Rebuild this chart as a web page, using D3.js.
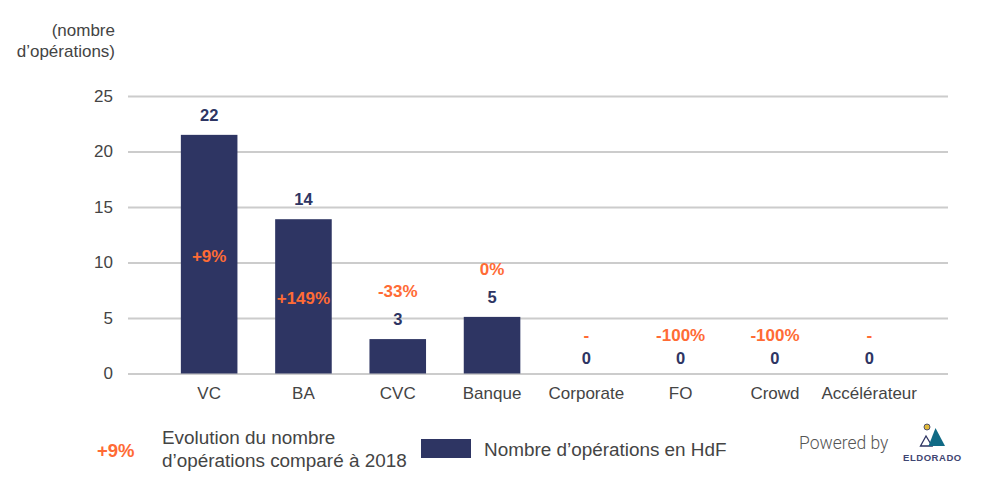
<!DOCTYPE html>
<html>
<head>
<meta charset="utf-8">
<script src="https://cdnjs.cloudflare.com/ajax/libs/d3/7.8.5/d3.min.js"></script>
<style>
  html, body { margin: 0; background: #fff; }
  text { font-family: "Liberation Sans", Arial, sans-serif; }
</style>
</head>
<body>
<script>
const categories = ['VC', 'BA', 'CVC', 'Banque', 'Corporate', 'FO', 'Crowd', 'Accélérateur'];
const barValues = [21.5, 13.9, 3.1, 5.1, 0, 0, 0, 0];
const valueLabels = ['22', '14', '3', '5', '0', '0', '0', '0'];
const evolutionLabels = ['+9%', '+149%', '-33%', '0%', '-', '-100%', '-100%', '-'];
const yTicks = [0, 5, 10, 15, 20, 25];

const navy = '#2e3563';
const orange = '#ff6b35';
const grey = '#444';

const w = 990;
const h = 486;
const svg = d3.select('body')
              .append('svg')
              .attr('width', w)
              .attr('height', h)
              .style('display', 'block');

const x = d3.scaleBand().domain(categories).range([162, 916.4]).paddingInner(0.4).paddingOuter(0.2);
const y = d3.scaleLinear().domain([0, 25]).range([373.5, 96]);

// gridlines + y labels
svg.append('g')
   .attr('transform', 'translate(128,0)')
   .call(d3.axisLeft(y).tickValues(yTicks).tickSize(-820).tickPadding(15))
   .call(g => g.select('.domain').remove())
   .call(g => g.selectAll('line').attr('stroke', '#ccc').attr('stroke-width', 2))
   .call(g => g.selectAll('text').attr('fill', grey).style('font-size', '17px'));

svg.selectAll('rect.bar')
   .data(categories)
   .enter()
   .append('rect')
   .attr('class', 'bar')
   .attr('x', d => x(d))
   .attr('y', (d, i) => y(barValues[i]))
   .attr('width', x.bandwidth())
   .attr('height', (d, i) => y(0) - y(barValues[i]))
   .attr('fill', navy);

// x labels
svg.append('g')
   .attr('transform', 'translate(0,373.5)')
   .call(d3.axisBottom(x).tickSize(0).tickPadding(13))
   .call(g => g.select('.domain').remove())
   .call(g => g.selectAll('text').attr('fill', grey).style('font-size', '17px'));

svg.selectAll('text.value')
   .data(categories)
   .enter()
   .append('text')
   .attr('class', 'value')
   .attr('x', d => x(d) + x.bandwidth() / 2)
   .attr('y', (d, i) => y(barValues[i]) - (barValues[i] > 0 ? 14 : 9.5))
   .attr('text-anchor', 'middle')
   .attr('fill', navy)
   .style('font-size', '16.5px')
   .style('font-weight', 'bold')
   .text((d, i) => valueLabels[i]);

// evolution sits mid-bar on tall bars, above the value otherwise
function evolutionY(i) {
  const v = barValues[i];
  if (v >= 10) return y(v / 2) + 8;
  if (v > 0) return y(v) - 42;
  return y(0) - 33;
}

svg.selectAll('text.evolution')
   .data(categories)
   .enter()
   .append('text')
   .attr('class', 'evolution')
   .attr('x', d => x(d) + x.bandwidth() / 2)
   .attr('y', (d, i) => evolutionY(i))
   .attr('text-anchor', 'middle')
   .attr('fill', orange)
   .style('font-size', '17px')
   .style('font-weight', 'bold')
   .text((d, i) => evolutionLabels[i]);

// y title
const title = svg.append('text')
   .attr('text-anchor', 'end')
   .attr('fill', grey)
   .style('font-size', '17px');
title.append('tspan').attr('x', 115).attr('y', 36).text('(nombre');
title.append('tspan').attr('x', 115).attr('y', 57).text('d’opérations)');

// legend
svg.append('text')
   .attr('x', 97).attr('y', 457)
   .attr('fill', orange)
   .style('font-size', '18.5px')
   .style('font-weight', 'bold')
   .text('+9%');

const legendText = svg.append('text')
   .attr('fill', grey)
   .style('font-size', '18.9px');
legendText.append('tspan').attr('x', 162).attr('y', 443.5).text('Evolution du nombre');
legendText.append('tspan').attr('x', 162).attr('y', 466.5).text('d’opérations comparé à 2018');

svg.append('rect')
   .attr('x', 421).attr('y', 439)
   .attr('width', 50).attr('height', 19)
   .attr('fill', navy);

svg.append('text')
   .attr('x', 484).attr('y', 455.5)
   .attr('fill', grey)
   .style('font-size', '18.9px')
   .text('Nombre d’opérations en HdF');

svg.append('text')
   .attr('x', 799).attr('y', 449)
   .attr('fill', '#555')
   .style('font-family', 'Roboto, sans-serif')
   .style('font-weight', 300)
   .style('font-size', '17.5px')
   .text('Powered by');

// logo
const logo = svg.append('g');
logo.append('circle').attr('cx', 927).attr('cy', 427).attr('r', 3).attr('fill', '#e0b93a').attr('stroke', navy).attr('stroke-width', 0.8);
logo.append('path').attr('d', d3.line()([[920.5, 446], [926, 436], [932, 446]]) + 'Z').attr('fill', 'none').attr('stroke', navy).attr('stroke-width', 1.3);
logo.append('path').attr('d', d3.line()([[928.5, 446], [935.5, 428], [945, 446]]) + 'Z').attr('fill', '#106a85');
svg.append('text')
   .attr('x', 903).attr('y', 461)
   .attr('fill', '#3f4672')
   .style('font-size', '9.5px')
   .style('font-weight', 'bold')
   .style('letter-spacing', '0.55px')
   .text('ELDORADO');
</script>
</body>
</html>
